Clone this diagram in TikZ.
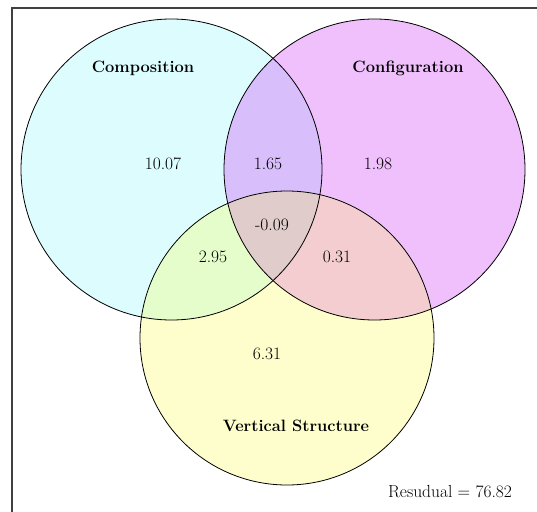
\documentclass[tikz,border=0pt]{standalone}
\definecolor{cC}{HTML}{DCFCFE}
\definecolor{cM}{HTML}{F0C0FC}
\definecolor{cY}{HTML}{FEFECC}
\definecolor{cCM}{HTML}{D8BFFC}
\definecolor{cCY}{HTML}{E4FDCA}
\definecolor{cMY}{HTML}{F3CDCF}
\definecolor{cCMY}{HTML}{E0CCCA}
\definecolor{frame}{HTML}{404040}
\tikzset{
  lbl/.style={font=\fontsize{16.5}{19}\selectfont\bfseries, inner sep=0pt},
  num/.style={font=\fontsize{17.5}{20}\selectfont, inner sep=0pt},
  ring/.style={draw=black, line width=0.8bp}
}
\begin{document}
\begin{tikzpicture}[x=1bp,y=-1bp]
\useasboundingbox (0,0) rectangle (537,512);
\fill[white] (0,0) rectangle (537,512);
\coordinate (A) at (171.5,169.5);
\coordinate (B) at (374.5,169.5);
\coordinate (V) at (287,338);
\def\rA{150.5}
\def\rB{150.5}
\def\rV{147}
% fills
\fill[cC] (A) circle[radius=\rA];
\fill[cM] (B) circle[radius=\rB];
\fill[cY] (V) circle[radius=\rV];
\begin{scope}
  \clip (A) circle[radius=\rA];
  \fill[cCM] (B) circle[radius=\rB];
  \fill[cCY] (V) circle[radius=\rV];
\end{scope}
\begin{scope}
  \clip (B) circle[radius=\rB];
  \fill[cMY] (V) circle[radius=\rV];
\end{scope}
\begin{scope}
  \clip (A) circle[radius=\rA];
  \clip (B) circle[radius=\rB];
  \fill[cCMY] (V) circle[radius=\rV];
\end{scope}
% outlines
\draw[ring] (A) circle[radius=\rA];
\draw[ring] (B) circle[radius=\rB];
\draw[ring] (V) circle[radius=\rV];
% frame
\draw[frame, line width=2bp] (12,520) -- (12,8) -- (545,8);
% labels
\node[lbl] (lc) at (143,68) {Composition};
\node[lbl] (lg) at (408,68) {Configuration};
\node[lbl] (lv) at (296,426) {Vertical Structure};
\node[num] (n1) at (163,164) {10.07};
\node[num] (n2) at (268,164) {1.65};
\node[num] (n3) at (378,164) {1.98};
\node[num] (n4) at (272,225) {-0.09};
\node[num] (n5) at (213,257) {2.95};
\node[num] (n6) at (337,257) {0.31};
\node[num] (n7) at (267,354) {6.31};
\node[num] (res) at (450,492) {Resudual = 76.82};
\end{tikzpicture}
\end{document}
